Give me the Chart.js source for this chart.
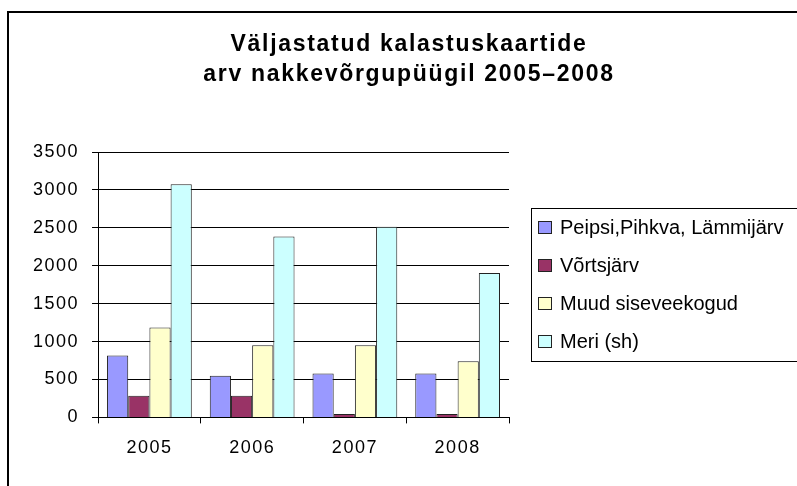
<!DOCTYPE html>
<html>
<head>
<meta charset="utf-8">
<script src="https://cdn.jsdelivr.net/npm/chart.js@4/dist/chart.umd.min.js"></script>
<style>
html,body{margin:0;padding:0;background:#fff;overflow:hidden;}
#wrap{position:absolute;left:0;top:0;width:820px;height:500px;}
</style>
</head>
<body>
<div id="wrap"><canvas id="c" width="820" height="500"></canvas></div>
<script>
const titleLines = ["Väljastatud kalastuskaartide", "arv nakkevõrgupüügil 2005–2008"];
const years = ["2005", "2006", "2007", "2008"];
const seriesNames = ["Peipsi,Pihkva, Lämmijärv", "Võrtsjärv", "Muud siseveekogud", "Meri (sh)"];
const peipsi = [815, 550, 580, 580];
const vortsjarv = [285, 285, 45, 45];
const muud = [1185, 950, 950, 740];
const meri = [3075, 2385, 2515, 1905];
const yTicks = [0, 500, 1000, 1500, 2000, 2500, 3000, 3500];
const colors = ["#9999FF", "#993366", "#FFFFCC", "#CCFFFF"];
const values = [peipsi, vortsjarv, muud, meri];

const FONT = "'Liberation Sans', Arial, sans-serif";

const frameAndLegend = {
  id: 'frameAndLegend',
  beforeUpdate(chart){ chart.ctx.letterSpacing = '1.5px'; },
  beforeDraw(chart){ chart.ctx.letterSpacing = '1.5px'; },
  afterDraw(chart){
    const ctx = chart.ctx;
    ctx.save();
    // outer frame
    ctx.strokeStyle = '#000';
    ctx.lineWidth = 2;
    ctx.strokeRect(8, 12, 830, 520);
    // title
    ctx.letterSpacing = '1.7px';
    ctx.font = "bold 23px " + FONT;
    ctx.fillStyle = '#000';
    ctx.textAlign = 'center';
    ctx.textBaseline = 'alphabetic';
    titleLines.forEach((t, i) => ctx.fillText(t, 409, 51 + i * 30));
    // legend box
    ctx.lineWidth = 1;
    ctx.strokeRect(531.5, 208.5, 300, 153);
    ctx.letterSpacing = '0px';
    ctx.font = "20px " + FONT;
    ctx.textAlign = 'left';
    chart.data.datasets.forEach((ds, i) => {
      const base = 234 + i * 38;
      ctx.fillStyle = ds.backgroundColor;
      ctx.fillRect(538, base - 13, 13, 12);
      ctx.strokeStyle = '#222';
      ctx.strokeRect(538.5, base - 12.5, 13, 12);
      ctx.fillStyle = '#000';
      ctx.fillText(ds.label, 560, base);
    });
    ctx.restore();
  }
};

new Chart(document.getElementById('c'), {
  type: 'bar',
  data: {
    labels: years,
    datasets: seriesNames.map((n, i) => ({
      label: n,
      data: values[i],
      backgroundColor: colors[i],
      borderColor: '#222',
      borderWidth: 1,
      categoryPercentage: 0.825,
      barPercentage: 1.0
    }))
  },
  options: {
    responsive: false,
    animation: false,
    devicePixelRatio: 1,
    layout: { padding: { left: 20, right: 311, top: 152, bottom: 27 } },
    plugins: {
      legend: { display: false },
      tooltip: { enabled: false },
      title: { display: false }
    },
    scales: {
      x: {
        grid: { display: true, drawOnChartArea: false, drawTicks: true, tickLength: 6, color: '#000', offset: true },
        border: { display: true, color: '#000', width: 1 },
        ticks: { color: '#000', font: { family: FONT, size: 18 }, padding: 14 }
      },
      y: {
        min: 0, max: 3500,
        afterBuildTicks(scale){ scale.ticks = yTicks.map(v => ({ value: v })); },
        grid: { color: '#000', lineWidth: 1, tickLength: 6, drawTicks: true },
        border: { display: true, color: '#000', width: 1 },
        ticks: { color: '#000', font: { family: FONT, size: 18 }, padding: 13, callback: v => String(v) }
      }
    }
  },
  plugins: [frameAndLegend]
});
</script>
</body>
</html>
